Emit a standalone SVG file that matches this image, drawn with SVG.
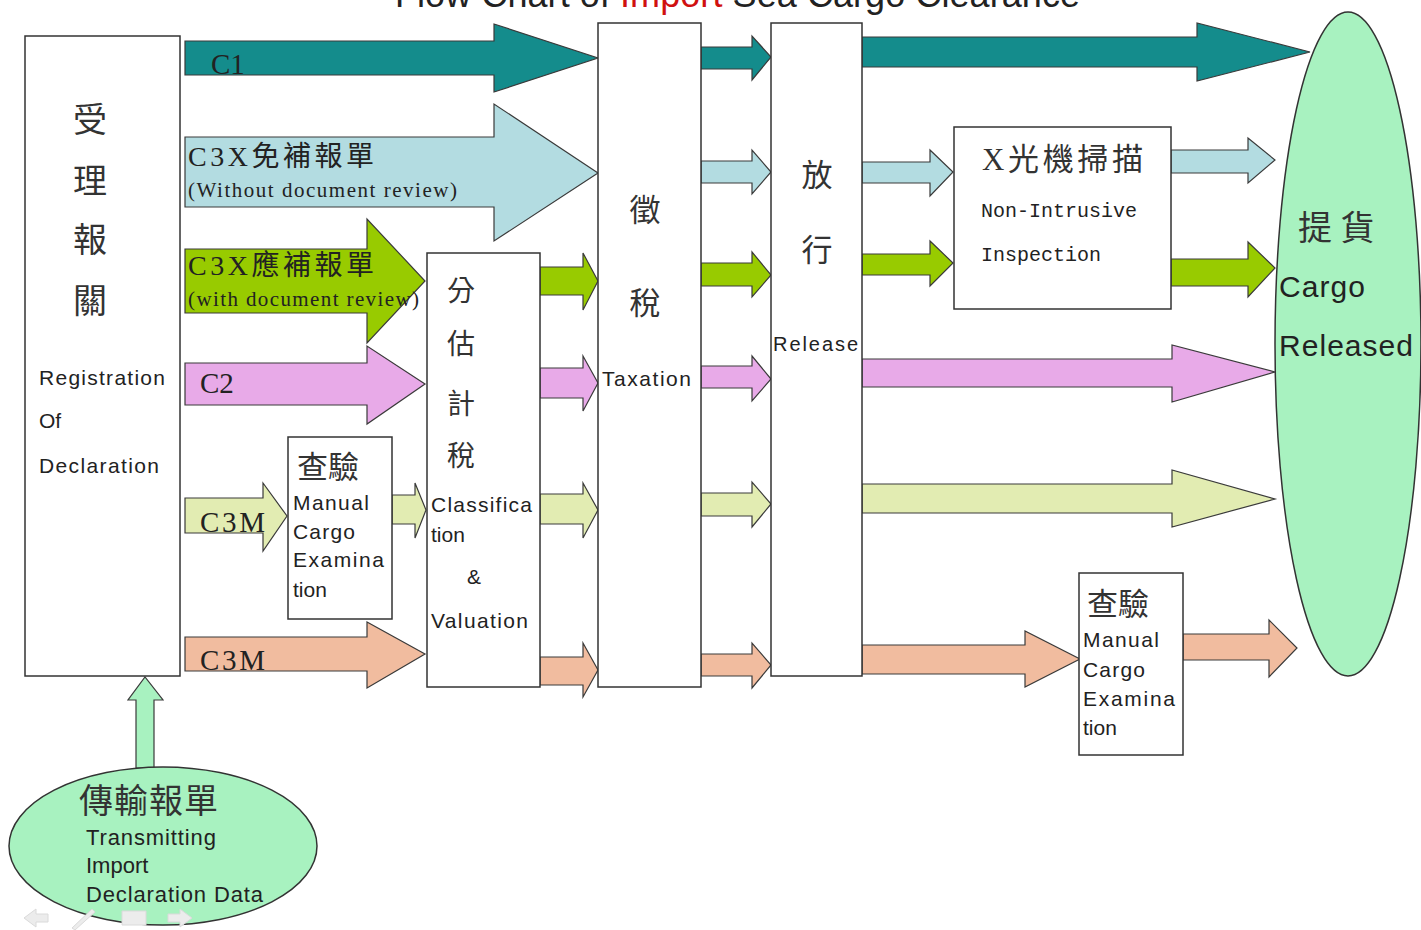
<svg xmlns="http://www.w3.org/2000/svg" width="1421" height="930" viewBox="0 0 1421 930">
<style>
.box{fill:#fff;stroke:#333;stroke-width:1.5}
.arr{stroke:#3a3a3a;stroke-width:1.2;stroke-linejoin:miter}
.teal{fill:#148c8c}
.blue{fill:#b3dce1}
.green{fill:#98cb00}
.pink{fill:#e8aae8}
.yel{fill:#e2ecb2}
.peach{fill:#f1bc9f}
.oval{fill:#a8f2c0;stroke:#333;stroke-width:1.5}
.cjk{font-family:"Liberation Serif","Noto Sans CJK TC",serif;fill:#333}
.sans{font-family:"Liberation Sans",Arial,sans-serif;fill:#222}
.serif{font-family:"Liberation Serif","Noto Sans CJK TC",serif;fill:#222}
.mono{font-family:"Liberation Mono","Noto Sans CJK TC",monospace;fill:#222}
.nav{fill:#ececec;stroke:#dadada;stroke-width:1}
</style>

<text x="395" y="7" class="sans" font-size="36" fill="#333" textLength="685">Flow Chart of <tspan fill="#d01010">Import</tspan> Sea Cargo Clearance</text>

<g id="connectors">
  <path class="arr teal" d="M185,41 L494,41 L494,24 L598,58 L494,92 L494,75 L185,75 Z"/>
  <path class="arr blue" d="M185,137 L494,137 L494,104 L598,173 L494,241 L494,207 L185,207 Z"/>
  <path class="arr green" d="M185,249 L367,249 L367,219 L425,281 L367,343 L367,313 L185,313 Z"/>
  <path class="arr pink" d="M185,363 L367,363 L367,346 L425,384 L367,424 L367,405 L185,405 Z"/>
  <path class="arr yel" d="M185,498 L263,498 L263,483 L287,516 L263,551 L263,533 L185,533 Z"/>
  <path class="arr yel" d="M392,495 L415,495 L415,483 L426,510 L415,538 L415,524 L392,524 Z"/>
  <path class="arr peach" d="M185,637 L367,637 L367,622 L425,654 L367,688 L367,671 L185,671 Z"/>

  <path class="arr green" d="M540,267 L583,267 L583,253 L598,281 L583,310 L583,295 L540,295 Z"/>
  <path class="arr pink" d="M540,368 L583,368 L583,356 L598,383 L583,411 L583,398 L540,398 Z"/>
  <path class="arr yel" d="M540,494 L583,494 L583,483 L598,510 L583,538 L583,524 L540,524 Z"/>
  <path class="arr peach" d="M540,657 L583,657 L583,643 L598,670 L583,697 L583,685 L540,685 Z"/>

  <path class="arr teal" d="M701,47 L752,47 L752,36 L771,57 L752,80 L752,69 L701,69 Z"/>
  <path class="arr blue" d="M701,161 L752,161 L752,150 L771,172 L752,194 L752,183 L701,183 Z"/>
  <path class="arr green" d="M701,263 L752,263 L752,252 L771,275 L752,297 L752,286 L701,286 Z"/>
  <path class="arr pink" d="M701,366 L752,366 L752,356 L771,379 L752,401 L752,388 L701,388 Z"/>
  <path class="arr yel" d="M701,493 L752,493 L752,482 L771,504 L752,527 L752,516 L701,516 Z"/>
  <path class="arr peach" d="M701,654 L752,654 L752,643 L771,665 L752,688 L752,676 L701,676 Z"/>

  <path class="arr teal" d="M862,37 L1197,37 L1197,23 L1310,52 L1197,81 L1197,67 L862,67 Z"/>
  <path class="arr blue" d="M862,162 L930,162 L930,150 L953,172 L930,196 L930,183 L862,183 Z"/>
  <path class="arr green" d="M862,254 L930,254 L930,241 L953,263 L930,286 L930,275 L862,275 Z"/>
  <path class="arr pink" d="M862,359 L1172,359 L1172,345 L1275,372 L1172,402 L1172,387 L862,387 Z"/>
  <path class="arr yel" d="M862,484 L1172,484 L1172,470 L1275,499 L1172,527 L1172,513 L862,513 Z"/>
  <path class="arr peach" d="M862,645 L1025,645 L1025,631 L1080,659 L1025,687 L1025,674 L862,674 Z"/>

  <path class="arr blue" d="M1171,150 L1248,150 L1248,138 L1275,160 L1248,183 L1248,173 L1171,173 Z"/>
  <path class="arr green" d="M1171,259 L1248,259 L1248,242 L1275,268 L1248,297 L1248,286 L1171,286 Z"/>
  <path class="arr peach" d="M1183,634 L1269,634 L1269,620 L1297,648 L1269,677 L1269,660 L1183,660 Z"/>

  <path class="arr" fill="#a8f2c0" d="M136,768 L136,700 L128,700 L145,677 L163,700 L154,700 L154,768 Z"/>
</g>

<g id="labels">
  <text x="211" y="74" class="serif" font-size="29">C1</text>
  <text x="188" y="166" class="serif" font-size="28" textLength="186">C3X免補報單</text>
  <text x="188" y="197" class="serif" font-size="21" textLength="269">(Without document review)</text>
  <text x="188" y="275" class="serif" font-size="28" textLength="186">C3X應補報單</text>
  <text x="188" y="306" class="serif" font-size="21" textLength="231">(with document review)</text>
  <text x="200" y="393" class="serif" font-size="29">C2</text>
  <text x="200" y="532" class="serif" font-size="29" textLength="65">C3M</text>
  <text x="200" y="670" class="serif" font-size="29" textLength="65">C3M</text>
</g>

<g id="registration">
  <rect class="box" x="25" y="36" width="155" height="640"/>
  <g class="cjk" font-size="34" text-anchor="middle">
    <text x="90" y="132">受</text>
    <text x="90" y="193">理</text>
    <text x="90" y="252">報</text>
    <text x="90" y="313">關</text>
  </g>
  <text x="39" y="385" class="sans" font-size="21" textLength="126">Registration</text>
  <text x="39" y="428" class="sans" font-size="21">Of</text>
  <text x="39" y="473" class="sans" font-size="21" textLength="120">Declaration</text>
</g>

<g id="inspection1">
  <rect class="box" x="288" y="437" width="104" height="182"/>
  <text x="297" y="478" class="cjk" font-size="31">查驗</text>
  <g class="sans" font-size="21">
    <text x="293" y="510" textLength="76">Manual</text>
    <text x="293" y="539" textLength="62">Cargo</text>
    <text x="293" y="567" textLength="91">Examina</text>
    <text x="293" y="597">tion</text>
  </g>
</g>

<g id="classification">
  <rect class="box" x="427" y="253" width="113" height="434"/>
  <g class="cjk" font-size="28" text-anchor="middle">
    <text x="461" y="301">分</text>
    <text x="461" y="354">估</text>
    <text x="461" y="414">計</text>
    <text x="461" y="466">稅</text>
  </g>
  <g class="sans" font-size="21">
    <text x="431" y="512" textLength="101">Classifica</text>
    <text x="431" y="542">tion</text>
    <text x="467" y="584">&amp;</text>
    <text x="431" y="628" textLength="97">Valuation</text>
  </g>
</g>

<g id="taxation">
  <rect class="box" x="598" y="23" width="103" height="664"/>
  <g class="cjk" font-size="31" text-anchor="middle">
    <text x="645" y="221">徵</text>
    <text x="645" y="314">稅</text>
  </g>
  <text x="602" y="386" class="sans" font-size="21" textLength="89">Taxation</text>
</g>

<g id="release">
  <rect class="box" x="771" y="23" width="91" height="653"/>
  <g class="cjk" font-size="31" text-anchor="middle">
    <text x="817" y="186">放</text>
    <text x="817" y="261">行</text>
  </g>
  <text x="773" y="351" class="sans" font-size="20" textLength="85">Release</text>
</g>

<g id="xray">
  <rect class="box" x="954" y="127" width="217" height="182"/>
  <text x="982" y="170" class="cjk" font-size="31" textLength="161">X光機掃描</text>
  <text x="981" y="217" class="mono" font-size="20">Non-Intrusive</text>
  <text x="981" y="261" class="mono" font-size="20">Inspection</text>
</g>

<g id="inspection2">
  <rect class="box" x="1079" y="573" width="104" height="182"/>
  <text x="1087" y="615" class="cjk" font-size="31">查驗</text>
  <g class="sans" font-size="21">
    <text x="1083" y="647" textLength="76">Manual</text>
    <text x="1083" y="677" textLength="62">Cargo</text>
    <text x="1083" y="706" textLength="92">Examina</text>
    <text x="1083" y="735">tion</text>
  </g>
</g>

<g id="cargo-released">
  <ellipse class="oval" cx="1348" cy="344" rx="73" ry="332"/>
  <text x="1298" y="240" class="cjk" font-size="34">提 貨</text>
  <text x="1279" y="297" class="sans" font-size="30" textLength="86">Cargo</text>
  <text x="1279" y="356" class="sans" font-size="30" textLength="134">Released</text>
</g>

<g id="transmitting">
  <ellipse class="oval" cx="163" cy="846" rx="154" ry="79"/>
  <text x="79" y="813" class="cjk" font-size="34" textLength="139">傳輸報單</text>
  <g class="sans" font-size="22">
    <text x="86" y="845" textLength="130">Transmitting</text>
    <text x="86" y="873">Import</text>
    <text x="86" y="902" textLength="177">Declaration Data</text>
  </g>
</g>

<g id="nav">
  <path class="nav" d="M24,918 L36,909 L36,914 L48,914 L48,922 L36,922 L36,927 Z"/>
  <path class="nav" d="M72,928 L92,909 L95,912 L75,930 Z"/>
  <path class="nav" d="M122,911 L146,911 L146,925 L122,925 Z"/>
  <path class="nav" d="M192,918 L180,909 L180,914 L168,914 L168,922 L180,922 L180,927 Z"/>
</g>
</svg>
